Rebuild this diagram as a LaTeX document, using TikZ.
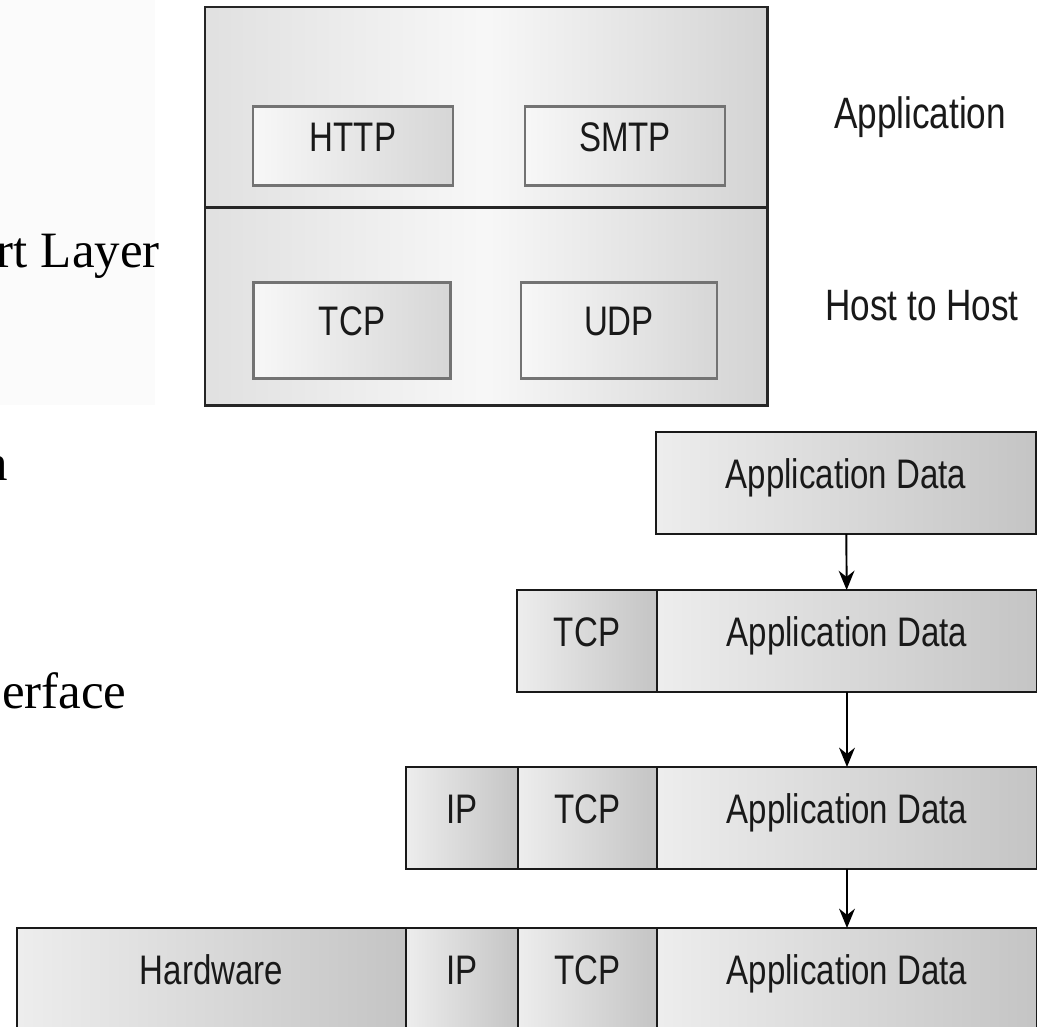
\documentclass[tikz,border=0pt]{standalone}
\usepackage{fontspec}
\usepackage{tikz}
\usetikzlibrary{arrows.meta,positioning}
\newfontfamily\figfont[FakeStretch=0.8]{Liberation Sans}
\newfontfamily\slidefont{Liberation Serif}

\begin{document}
\begin{tikzpicture}[x=0.2mm,y=-0.2mm,>={Stealth[length=11pt,width=9pt]},
                    semithick]
\tikzstyle{every node}=[outer sep=0pt,inner sep=0pt,text=black!90]
\tikzstyle{layer}=[draw=black!85,line width=1.7pt,left color=gray!24,right color=gray!34,middle color=gray!6,minimum width=112.4mm]
\tikzstyle{proto}=[draw=black!55,line width=1.7pt,left color=gray!6,right color=gray!32,
                   font=\figfont\fontsize{23.5}{28}\selectfont,text height=1.4ex,text depth=0pt]
\tikzstyle{cell}=[draw=black!90,line width=1.6pt,left color=gray!14,right color=gray!46,minimum height=20.4mm,
                  font=\figfont\fontsize{23.5}{28}\selectfont,text height=1.4ex,text depth=0pt]
\tikzstyle{lbl}=[font=\figfont\fontsize{25}{30}\selectfont,anchor=base]
\tikzstyle{slide}=[font=\slidefont\fontsize{29}{34}\selectfont,text=black]
\tikzstyle{flow}=[->,line width=1.1pt,black]

\path[use as bounding box,clip] (0,0) rectangle (1037,1027);
\fill[white] (0,0) rectangle (1037,1027);
\fill[gray!3] (0,0) rectangle (155,405);

% slide text, cut at the left edge
\node[slide,anchor=base west] (transport) at (-3,267) {rt Layer};
\node[slide,anchor=base east] (internet) at (8,480) {n};
\node[slide,anchor=base west] (netif) at (2,708) {erface};

% protocol stack
\node[layer,minimum height=40mm,anchor=north west] (applayer) at (205,7) {};
\node[layer,minimum height=39.6mm,below=0pt of applayer] (hostlayer) {};
\node[proto,minimum width=40mm,minimum height=15.8mm] (http) at (353,146) {HTTP};
\node[proto,minimum width=40mm,minimum height=15.8mm] (smtp) at (625,146) {SMTP};
\node[proto,minimum width=39.4mm,minimum height=19.2mm] (tcp) at (352,330) {TCP};
\node[proto,minimum width=39.2mm,minimum height=19.2mm] (udp) at (619,330) {UDP};
\node[lbl] (applbl) at (920,128) {Application};
\node[lbl] (hostlbl) at (922,320) {Host to Host};

% encapsulation
\node[cell,minimum width=76mm,anchor=north west] (ad1) at (656,432) {Application Data};

\node[cell,minimum width=76mm,anchor=north west] (ad2) at (657,590) {Application Data};
\node[cell,minimum width=28mm,left=0pt of ad2] (tcp2) {TCP};

\node[cell,minimum width=76mm,anchor=north west] (ad3) at (657,767) {Application Data};
\node[cell,minimum width=27.8mm,left=0pt of ad3] (tcp3) {TCP};
\node[cell,minimum width=22.4mm,left=0pt of tcp3] (ip3) {IP};

\node[cell,minimum width=76mm,anchor=north west] (ad4) at (657,928) {Application Data};
\node[cell,minimum width=27.8mm,left=0pt of ad4] (tcp4) {TCP};
\node[cell,minimum width=22.4mm,left=0pt of tcp4] (ip4) {IP};
\node[cell,minimum width=77.8mm,left=0pt of ip4] (hw4) {Hardware};

\path[flow] (ad1) edge (ad2)
            (ad2) edge (ad3)
            (ad3) edge (ad4);
\end{tikzpicture}
\end{document}
